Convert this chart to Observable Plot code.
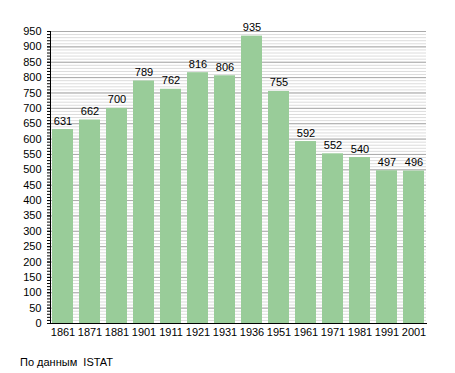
<!DOCTYPE html>
<html>
<head>
<meta charset="utf-8">
<script src="https://cdn.jsdelivr.net/npm/d3@7"></script>
<script src="https://cdn.jsdelivr.net/npm/@observablehq/plot@0.6"></script>
<style>
  body { margin: 0; background: #fff; font-family: "Liberation Sans", Arial, sans-serif; }
  #caption { font-size: 11px; line-height: 14px; margin: 10px 0 0 20px; white-space: pre; color: #000; }
  svg { display: block; }
</style>
</head>
<body>
<div id="chart"></div>
<div id="caption">По данным  ISTAT</div>
<script>
const years = ["1861","1871","1881","1901","1911","1921","1931","1936","1951","1961","1971","1981","1991","2001"];
const population = [631, 662, 700, 789, 762, 816, 806, 935, 755, 592, 552, 540, 497, 496];
const majorTicks = d3.range(0, 951, 50);
const minorTicks = d3.range(0, 951, 10);

const data = years.map((y, i) => ({year: y, value: population[i]}));

const chart = Plot.plot({
  width: 455,
  height: 345,
  marginLeft: 50,
  marginRight: 29,
  marginTop: 31,
  marginBottom: 22,
  style: {fontFamily: "Liberation Sans, Arial, sans-serif", fontSize: "11px", color: "#000", background: "#fff"},
  x: {domain: years, paddingInner: 0.24, paddingOuter: 0.05, label: null},
  y: {domain: [0, 950], label: null},
  marks: [
    Plot.ruleY(minorTicks, {stroke: "#dcdcdc", strokeWidth: 1}),
    Plot.ruleY(majorTicks, {stroke: "#aaaaaa", strokeWidth: 1}),
    Plot.barY(data, {x: "year", y: "value", fill: "#99cc99"}),
    Plot.text(data, {x: "year", y: "value", text: d => String(d.value), lineAnchor: "bottom", dy: -5, fill: "#000", fontSize: 11}),
    Plot.axisY({ticks: minorTicks, tickFormat: () => "", tickSize: 3, stroke: "#000"}),
    Plot.axisY({ticks: majorTicks, tickSize: 3, tickPadding: 6, fill: "#000", fontSize: 11}),
    Plot.axisX({tickSize: 0, tickPadding: 5, fill: "#000", fontSize: 11}),
    Plot.frame({anchor: "left", stroke: "#000"}),
    Plot.frame({anchor: "bottom", stroke: "#000"})
  ]
});
document.getElementById("chart").appendChild(chart);
</script>
</body>
</html>
